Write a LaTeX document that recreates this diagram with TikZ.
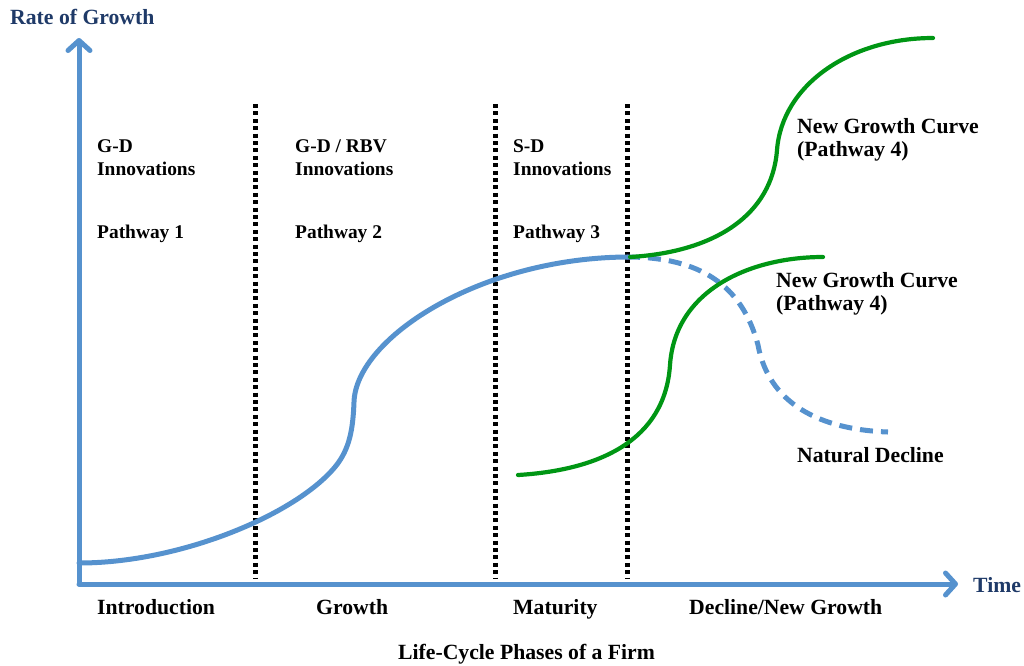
\documentclass[tikz,border=0pt]{standalone}
\usepackage{fontspec}
\setmainfont{Liberation Serif}
\usetikzlibrary{arrows.meta}
\definecolor{cblue}{RGB}{86,146,206}
\definecolor{cgreen}{RGB}{0,150,20}
\definecolor{tblue}{RGB}{31,58,104}
\tikzset{
  axisline/.style={cblue, line width=5pt, line cap=round,
    -{Straight Barb[length=10pt,width=22pt,line cap=round,line join=round]}},
  divider/.style={black, line width=5pt, dash pattern=on 4pt off 3.4pt},
  maincurve/.style={cblue, line width=5pt, line cap=round},
  declinecurve/.style={cblue, line width=5pt, dash pattern=on 13pt off 8pt},
  newcurve/.style={cgreen, line width=4.2pt, line cap=round},
  bigtxt/.style={font=\fontsize{21.7}{24}\selectfont\bfseries, inner sep=0pt, anchor=base west},
  smalltxt/.style={font=\fontsize{19.4}{23}\selectfont\bfseries, inner sep=0pt, anchor=base west}
}
\begin{document}
\begin{tikzpicture}[x=1pt,y=-1pt]
\useasboundingbox (0,0) rectangle (1024,665);

% axes
\coordinate (origin) at (79,584);
\coordinate (ytip) at (79,38);
\coordinate (xtip) at (958,584);
\draw[axisline] (origin) -- (ytip);
\draw[axisline] (origin) -- (xtip);

% dividers
\foreach \n/\x in {d1/255, d2/495, d3/627}{
  \coordinate (\n top) at (\x,104);
  \coordinate (\n bot) at (\x,579);
  \draw[divider] (\n top) -- (\n bot);
}

% curve points
\coordinate (m0) at (79,563);
\coordinate (m1) at (335,467);
\coordinate (m2) at (354,402);
\coordinate (peak) at (627,257);
\coordinate (dmid) at (758,345);
\coordinate (dend) at (888,432);
\coordinate (g0) at (518,475);
\coordinate (g1) at (670,365);
\coordinate (g2) at (823,257);
\coordinate (u0) at (630,257);
\coordinate (u1) at (777,150);
\coordinate (u2) at (933,38);

% curves
\draw[maincurve] (m0) .. controls (180,563) and (295,515) .. (m1)
  .. controls (350,449) and (353,428) .. (m2)
  .. controls (356,338) and (480,258) .. (peak);
\draw[declinecurve] (peak) .. controls (700,257) and (742,285) .. (dmid)
  .. controls (770,410) and (830,430) .. (dend);
\draw[newcurve] (g0) .. controls (600,470) and (665,440) .. (g1)
  .. controls (675,290) and (750,257) .. (g2);
\draw[newcurve] (u0) .. controls (715,252) and (772,215) .. (u1)
  .. controls (782,85) and (850,38) .. (u2);

% axis labels
\node[bigtxt, text=tblue] (ylab) at (10,24) {Rate of Growth};
\node[bigtxt, text=tblue] (xlab) at (973,592) {Time};

% phase texts
\node[smalltxt] (p1a) at (97,152) {G-D};
\node[smalltxt] (p1b) at (97,175) {Innovations};
\node[smalltxt] (p1c) at (97,238) {Pathway 1};
\node[smalltxt] (p2a) at (295,152) {G-D / RBV};
\node[smalltxt] (p2b) at (295,175) {Innovations};
\node[smalltxt] (p2c) at (295,238) {Pathway 2};
\node[smalltxt] (p3a) at (513,152) {S-D};
\node[smalltxt] (p3b) at (513,175) {Innovations};
\node[smalltxt] (p3c) at (513,238) {Pathway 3};

\node[bigtxt] (ng1a) at (797,133) {New Growth Curve};
\node[bigtxt] (ng1b) at (797,156) {(Pathway 4)};
\node[bigtxt] (ng2a) at (776,287) {New Growth Curve};
\node[bigtxt] (ng2b) at (776,310) {(Pathway 4)};
\node[bigtxt] (nd) at (797,462) {Natural Decline};

% bottom labels
\node[bigtxt] (ph1) at (97,614) {Introduction};
\node[bigtxt] (ph2) at (316,614) {Growth};
\node[bigtxt] (ph3) at (513,614) {Maturity};
\node[bigtxt] (ph4) at (689,614) {Decline/New Growth};
\node[bigtxt] (cap) at (398,659) {Life-Cycle Phases of a Firm};
\end{tikzpicture}
\end{document}
